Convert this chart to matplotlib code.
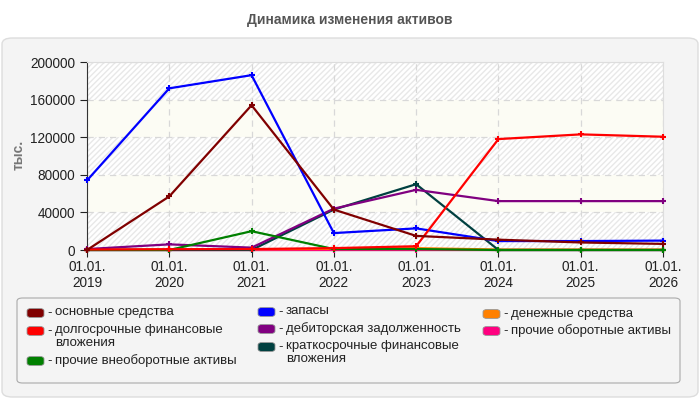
import numpy as np
import matplotlib.pyplot as plt
from matplotlib.patches import FancyBboxPatch

plt.rcParams['font.family'] = ['Liberation Sans', 'DejaVu Sans']

# данные, тыс.
years = ['01.01.\n2019', '01.01.\n2020', '01.01.\n2021', '01.01.\n2022',
         '01.01.\n2023', '01.01.\n2024', '01.01.\n2025', '01.01.\n2026']
osnovnye = [0, 57000, 154000, 43000, 15000, 11000, 8000, 6500]
dolgosr = [500, 800, 1000, 2000, 4000, 118000, 123000, 120500]
proch_vneob = [0, 0, 20000, 1000, 1000, 0, 0, 0]
zapasy = [74000, 172000, 186000, 18000, 23000, 9500, 9500, 10000]
debitor = [1000, 6000, 2500, 44000, 64000, 52000, 52000, 52000]
kratkosr = [0, 0, 0, 43000, 70000, 0, 0, 0]
denezhn = [300, 500, 800, 1200, 2000, 500, 500, 500]
proch_ob = [0, 0, 0, 0, 0, 0, 0, 0]

series = [
    ('основные средства', osnovnye, '#800000'),
    ('долгосрочные финансовые\nвложения', dolgosr, '#ff0000'),
    ('прочие внеоборотные активы', proch_vneob, '#008000'),
    ('запасы', zapasy, '#0000ff'),
    ('дебиторская задолженность', debitor, '#800080'),
    ('краткосрочные финансовые\nвложения', kratkosr, '#004040'),
    ('денежные средства', denezhn, '#ff8000'),
    ('прочие оборотные активы', proch_ob, '#ff0080'),
]

fig = plt.figure(figsize=(7, 4), dpi=100)
fig.patch.set_facecolor('white')

# фон-панель
panel = FancyBboxPatch((2 / 700, 3 / 400), 696 / 700, 359 / 400,
                       boxstyle='round,pad=0,rounding_size=0.015',
                       transform=fig.transFigure, facecolor='#f4f4f4',
                       edgecolor='#dddddd', lw=1, zorder=-2)
fig.patches.append(panel)

fig.text(0.5, 1 - 20 / 400, 'Динамика изменения активов', ha='center', va='center',
         fontsize=10, fontweight='bold', color='#555555')

ax = fig.add_axes([87 / 700, 1 - 250 / 400, 576 / 700, 188 / 400])
ax.set_facecolor('white')
x = np.arange(len(years))
ax.set_xlim(0, len(years) - 1)
ax.set_ylim(0, 200000)

# полосы фона
for lo in range(0, 200000, 40000):
    if (lo // 40000) % 2 == 0:
        ax.axhspan(lo, lo + 40000, facecolor='white', edgecolor='#e8e8e8',
                   hatch='//////', lw=0, zorder=0)
    else:
        ax.axhspan(lo, lo + 40000, facecolor='#fcfcf4', lw=0, zorder=0)

ax.grid(True, color='#d8d8d8', linestyle=(0, (5, 4)), lw=0.9)
ax.set_axisbelow(True)

for name, vals, col in series[::-1]:
    ax.plot(x, vals, color=col, lw=1.6, marker='+', ms=5, mew=1.5, zorder=3,
            clip_on=False)

ax.set_yticks(np.arange(0, 200001, 40000))
ax.set_yticklabels([str(v) for v in range(0, 200001, 40000)])
ax.set_xticks(x)
ax.set_xticklabels(years)
ax.tick_params(labelsize=9.8, colors='#222222', length=5)
ax.tick_params(axis='x', pad=2)
for s in ['top', 'right']:
    ax.spines[s].set_color('#dddddd')
for s in ['left', 'bottom']:
    ax.spines[s].set_color('#333333')

fig.text(19 / 700, 1 - 155 / 400, 'тыс.', rotation=90, ha='center', va='center',
         fontsize=10, fontweight='bold', color='#777777')

# легенда
leg = FancyBboxPatch((17 / 700, 1 - 383 / 400), 663 / 700, 85 / 400,
                     boxstyle='round,pad=0,rounding_size=0.008',
                     transform=fig.transFigure, facecolor='#f4f4f4',
                     edgecolor='#aaaaaa', lw=0.8, zorder=-1)
fig.patches.append(leg)

cols_x = [27, 258, 483]
rows_y = [[313, 331, 361], [312, 329, 347], [314, 331]]
idx = 0
for c, xs in enumerate(cols_x):
    for ys in rows_y[c]:
        name, vals, col = series[idx]
        idx += 1
        sw = FancyBboxPatch((xs / 700, 1 - (ys + 4.5) / 400), 17 / 700, 9 / 400,
                            boxstyle='round,pad=0,rounding_size=0.006',
                            transform=fig.transFigure, facecolor=col,
                            edgecolor='#999999', lw=0.6)
        fig.patches.append(sw)
        fig.text((xs + 20) / 700, 1 - ys / 400, '-', ha='left',
                 va='center', fontsize=9.5, color='#222222')
        fig.text((xs + 28) / 700, 1 - (ys - 6.5) / 400, name, ha='left',
                 va='top', fontsize=9.5, color='#222222', linespacing=1.0)

fig.savefig('out.png', dpi=100)
